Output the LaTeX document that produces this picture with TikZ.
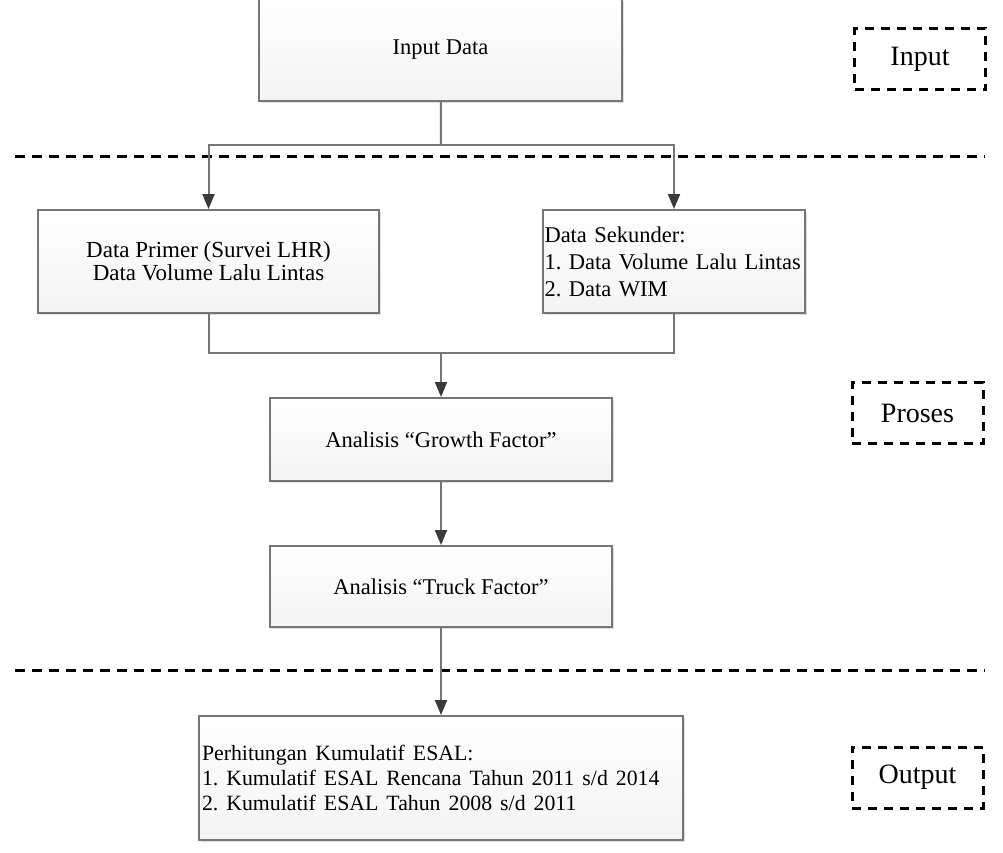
\documentclass[tikz,border=0pt]{standalone}
\usepackage{fontspec}
\setmainfont{Liberation Serif}
\usetikzlibrary{arrows.meta,positioning,shadows}

\definecolor{linegray}{RGB}{118,118,118}
\definecolor{tipgray}{RGB}{58,58,58}

\begin{document}
\frenchspacing
\begin{tikzpicture}[x=1pt,y=-1pt,
        box/.style={draw=linegray, line width=2pt, top color=white, bottom color=gray!9,
          inner sep=2pt, font=\fontsize{22.5}{27}\selectfont,
          drop shadow={shadow xshift=2pt, shadow yshift=-2pt, opacity=0.25}},
        conn/.style={draw=linegray, line width=2pt},
        arr/.style={conn, -{Triangle[length=15pt,width=12pt,color=tipgray]}},
        sep/.style={line width=3pt, dash pattern=on 10pt off 7pt},
        stage/.style={draw, line width=3pt, dash pattern=on 9pt off 7pt,
          minimum width=131pt, minimum height=61pt, font=\fontsize{28}{32}\selectfont}]
        \useasboundingbox (0,0) rectangle (1003,853);
        \node[box, minimum width=363pt, minimum height=102pt] (input) at (440.5,50) {Input Data};
        \node[box, minimum width=341pt, minimum height=103pt, align=center,
          font=\fontsize{23}{23}\selectfont] (primer) at (208.5,261.5)
          {Data Primer (Survei LHR)\\Data Volume Lalu Lintas};
        \node[box, minimum width=262pt, minimum height=103pt, text width=259pt, inner xsep=1pt,
          align=left, font=\fontsize{22.5}{27}\selectfont] (sekunder) at (674,261.5)
          {Data Sekunder:\\1. Data Volume Lalu Lintas\\2. Data WIM};
        \node[box, minimum width=342pt, minimum height=83pt] (growth) at (441,439.5)
          {Analisis ``Growth Factor''};
        \node[box, minimum width=342pt, minimum height=81pt] (truck) at (441,586.5)
          {Analisis ``Truck Factor''};
        \node[box, minimum width=484pt, minimum height=124pt, text width=478pt, align=left,
          font=\fontsize{24}{25}\selectfont] (esal) at (441,778)
          {\fontsize{21.8}{25}\selectfont Perhitungan Kumulatif ESAL:\\
           1. Kumulatif ESAL Rencana Tahun 2011 s/d 2014\\
           2. Kumulatif ESAL Tahun 2008 s/d 2011};
        \node[stage] (stageinput) at (920,59.5) {Input};
        \node[stage] (stageproses) at (917.5,413) {Proses};
        \node[stage] (stageoutput) at (917.5,777.5) {Output};
        \coordinate (split) at (441,145);
        \coordinate (merge) at (441,353);
        \coordinate (sepAL) at (15,157);
        \coordinate (sepAR) at (985,157);
        \coordinate (sepBL) at (15,670);
        \coordinate (sepBR) at (985,670);
        \draw[sep] (sepAL) -- (sepAR);
        \draw[sep] (sepBL) -- (sepBR);
        \draw[conn] (input) -- (split);
        \draw[arr] (split) -| (primer);
        \draw[arr] (split) -| (sekunder);
        \draw[conn] (primer) |- (merge);
        \draw[conn] (sekunder) |- (merge);
        \draw[arr] (merge) -- (growth);
        \draw[arr] (growth) -- (truck);
        \draw[arr] (truck) -- (esal);
      \end{tikzpicture}
\end{document}
